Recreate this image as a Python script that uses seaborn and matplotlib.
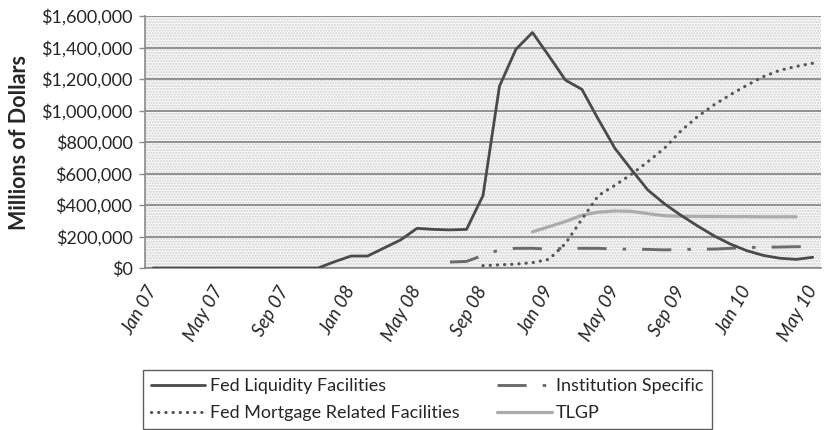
import numpy as np
import pandas as pd
import matplotlib
matplotlib.use("Agg")
import matplotlib.pyplot as plt
from matplotlib.patches import Rectangle
from matplotlib.ticker import FuncFormatter
import seaborn as sns

# ---------------- data ----------------
months = pd.date_range("2007-01-01", "2010-05-01", freq="MS")
month_labels = [d.strftime("%b %y") for d in months]
tick_labels = month_labels[::4]

nan = np.nan
fed_liquidity = [0, 0, 0, 0, 0, 0, 0, 0, 0, 0,
                 0, 40000, 76000, 76000, 127000, 178000, 252000, 245000, 242000, 245000,
                 460000, 1155000, 1389000, 1495000, 1346000, 1193000, 1134000, 943000, 760000, 625000,
                 495000, 408000, 335000, 268000, 205000, 152000, 110000, 80000, 62000, 55000,
                 68000]
fed_mortgage = [nan] * 20 + [15000, 20000, 25000, 34000, 55000, 155000, 310000, 460000, 525000, 595000,
                             675000, 760000, 870000, 960000, 1035000, 1100000, 1160000, 1215000, 1255000, 1280000,
                             1300000]
institution_specific = [nan] * 18 + [38000, 42000, 80000, 115000, 125000, 125000, 120000, 125000, 125000, 125000,
                                     120000, 120000, 118000, 115000, 117000, 120000, 120000, 125000, 130000, 132000,
                                     133000, 135000, 136000]
tlgp = [nan] * 23 + [230000, 262000, 295000, 335000, 355000, 362000, 360000, 345000, 332000, 328000,
                     327000, 327000, 326000, 326000, 325000, 325000, 325000, nan]

series_names = ["Fed Liquidity Facilities", "Institution Specific",
                "Fed Mortgage Related Facilities", "TLGP"]

# ---------------- figure ----------------
sns.set_theme(style="white")
plt.rcParams["font.family"] = ["Lato", "DejaVu Sans"]

fig = plt.figure(figsize=(8.24, 4.30), dpi=100)
ax = fig.add_axes([145 / 824, 1 - 268 / 430, (821 - 145) / 824, (268 - 16) / 430])

# stippled background
ax.set_facecolor("#f8f8f8")
bg = Rectangle((0, 0), 1, 1, transform=ax.transAxes, facecolor="none",
               edgecolor="#cfcfcf", hatch="......", linewidth=0, zorder=0)
ax.add_patch(bg)

idx = np.arange(len(months))

def draw(values, label, **kw):
    df = pd.DataFrame({"x": idx, "y": values}).dropna()
    sns.lineplot(data=df, x="x", y="y", ax=ax, label=label, **kw)

draw(fed_liquidity, series_names[0], color="#4a4a4a", linewidth=2.0, zorder=5)
draw(institution_specific, series_names[1], color="#6b6b6b", linewidth=2.1,
     dashes=(10, 5.5, 1.2, 5.5), zorder=4)
draw(fed_mortgage, series_names[2], color="#555555", linewidth=2.3,
     dashes=(0.05, 2.2), zorder=4)
draw(tlgp, series_names[3], color="#ababab", linewidth=2.3, zorder=3)

for ln in ax.get_lines():
    if ln.get_label() == series_names[2]:
        ln.set_dash_capstyle("round")

# axes
ax.set_xlim(-0.5, len(months) - 0.5)
ax.set_ylim(0, 1600000)
ax.set_yticks(np.arange(0, 1600001, 200000))
ax.yaxis.set_major_formatter(FuncFormatter(lambda v, p: f"${v:,.0f}"))
ax.grid(axis="y", color="#8a8a8a", linewidth=1.3)
ax.grid(axis="x", visible=False)
ax.set_axisbelow(True)

ax.set_xticks(idx[::4])
ax.set_xticklabels(tick_labels, rotation=60, ha="right", va="center",
                   rotation_mode="anchor", style="italic")
ax.set_xticks(np.arange(-0.5, len(months), 4), minor=True)
ax.tick_params(axis="x", which="major", length=0, pad=14, labelsize=13.5)
ax.tick_params(axis="x", which="minor", length=4, width=1, color="#8a8a8a", direction="out")
ax.tick_params(axis="y", length=4, width=1, color="#8a8a8a", labelsize=13, pad=5, left=True)

for s in ["top", "right"]:
    ax.spines[s].set_visible(False)
for s in ["left", "bottom"]:
    ax.spines[s].set_color("#8a8a8a")
    ax.spines[s].set_linewidth(1.2)

ax.set_xlabel("")
ax.set_ylabel("Millions of Dollars", fontsize=15.5, fontweight="bold", labelpad=8)

# legend (column-major order so rows read: Liquidity | Institution, Mortgage | TLGP)
handles, labels = ax.get_legend_handles_labels()
legend_order = [series_names[0], series_names[2], series_names[1], series_names[3]]
order = [labels.index(n) for n in legend_order]
ax.legend([handles[i] for i in order], [labels[i] for i in order],
          ncol=2, loc="upper left", bbox_to_anchor=(143 / 824, 1 - 370 / 430),
          bbox_transform=fig.transFigure, frameon=True, fancybox=False,
          edgecolor="#333333", fontsize=13, handlelength=3.0, handletextpad=0.25,
          columnspacing=2.1, borderpad=0.45, labelspacing=0.6, borderaxespad=0)
leg = ax.get_legend()
leg.get_frame().set_linewidth(1.0)

fig.savefig("out.png", dpi=100)
